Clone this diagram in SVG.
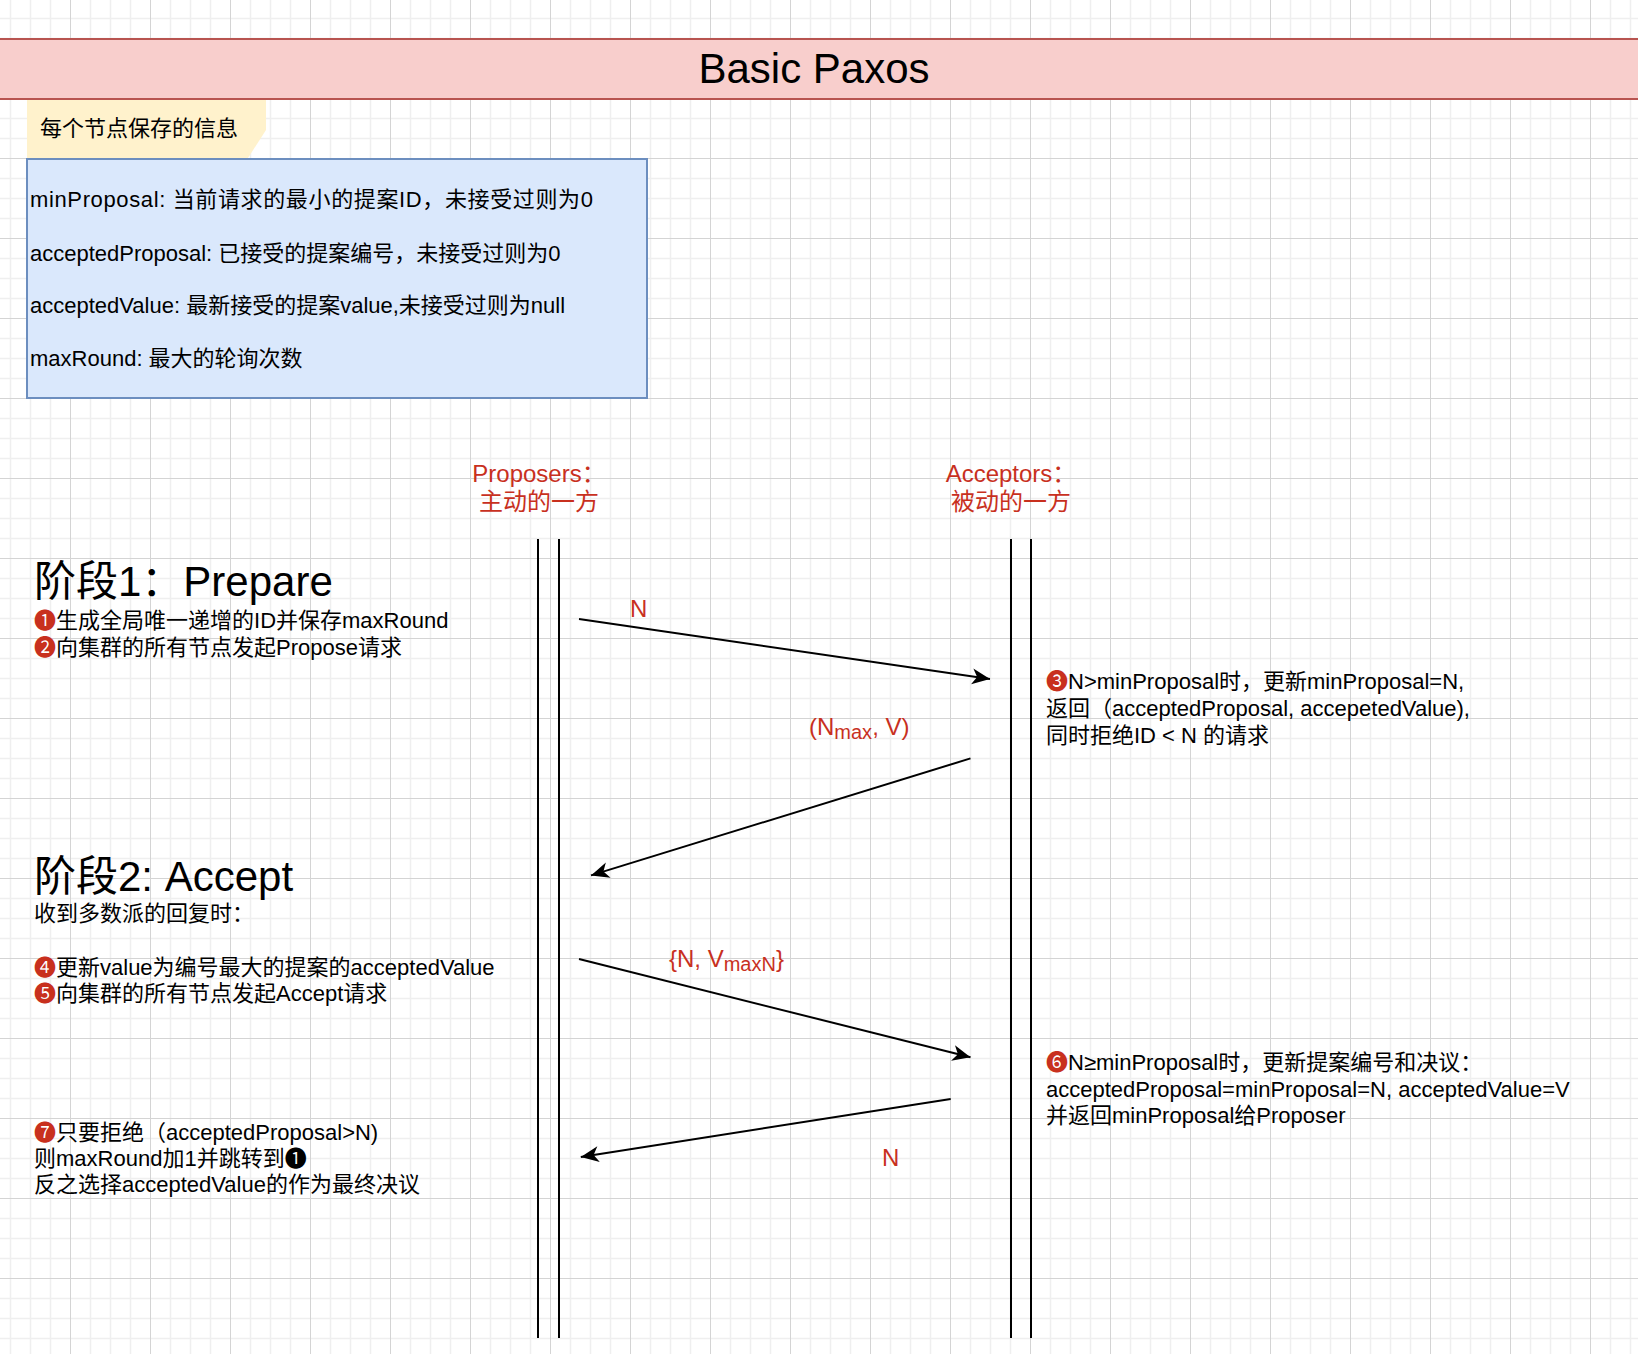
<svg xmlns="http://www.w3.org/2000/svg" width="1638" height="1354" viewBox="0 0 1638 1354">
<style>
text{font-family:"Liberation Sans","Noto Sans CJK SC","DejaVu Sans",sans-serif;fill:#000}
.t22{font-size:22px}
.t24{font-size:24px}
.h{font-size:42px}
.red{fill:#c8301e}
.conn{stroke:#000;stroke-width:2;fill:none}
.life{stroke:#000;stroke-width:2}
</style>
<defs>
<pattern id="grid" x="-10" y="-2" width="80" height="80" patternUnits="userSpaceOnUse">
<rect x="0" y="0" width="80" height="80" fill="#ffffff"/>
<path d="M20.5 0V80M40.5 0V80M60.5 0V80M0 20.5H80M0 40.5H80M0 60.5H80" stroke="#efefef" stroke-width="1.5"/>
<path d="M0.5 0V80M0 0.5H80" stroke="#d4d4d4" stroke-width="1"/>
</pattern>
<marker id="arrow" viewBox="0 0 20 18" refX="19" refY="9" markerWidth="20" markerHeight="18" orient="auto" markerUnits="userSpaceOnUse">
<path d="M19,9 L1,1 L6,9 L1,17 Z" fill="#000"/>
</marker>
</defs>
<rect x="0" y="0" width="1638" height="1354" fill="url(#grid)"/>

<g id="title">
<rect x="-5" y="39" width="1648" height="60" fill="#f8cecc" stroke="#b85450" stroke-width="2"/>
<text class="h" x="814" y="83" text-anchor="middle">Basic Paxos</text>
</g>

<g id="note">
<polygon points="27,100 266,100 266,130 248,158 27,158" fill="#fff2cc"/>
<text class="t22" x="40" y="136">每个节点保存的信息</text>
</g>

<g id="info-box">
<rect x="27" y="159" width="620" height="239" fill="#dae8fc" stroke="#6c8ebf" stroke-width="2"/>
<text class="t22" x="30" y="207" textLength="563" lengthAdjust="spacing">minProposal: 当前请求的最小的提案ID，未接受过则为0</text>
<text class="t22" x="30" y="261">acceptedProposal: 已接受的提案编号，未接受过则为0</text>
<text class="t22" x="30" y="313">acceptedValue: 最新接受的提案value,未接受过则为null</text>
<text class="t22" x="30" y="366">maxRound: 最大的轮询次数</text>
</g>

<g id="proposers">
<text class="t24 red" x="539" y="482" text-anchor="middle">Proposers：</text>
<text class="t24 red" x="539" y="510" text-anchor="middle">主动的一方</text>
<line class="life" x1="538" y1="539" x2="538" y2="1338"/>
<line class="life" x1="559" y1="539" x2="559" y2="1338"/>
</g>

<g id="acceptors">
<text class="t24 red" x="1011" y="482" text-anchor="middle">Acceptors：</text>
<text class="t24 red" x="1011" y="510" text-anchor="middle">被动的一方</text>
<line class="life" x1="1011" y1="539" x2="1011" y2="1338"/>
<line class="life" x1="1031" y1="539" x2="1031" y2="1338"/>
</g>

<g id="phase1">
<text class="h" x="34" y="596">阶段1：Prepare</text>
<text class="t22" x="34" y="628"><tspan class="red">❶</tspan>生成全局唯一递增的ID并保存maxRound</text>
<text class="t22" x="34" y="655"><tspan class="red">❷</tspan>向集群的所有节点发起Propose请求</text>
</g>

<g id="acceptor-prepare">
<text class="t22" x="1046" y="689"><tspan class="red">❸</tspan>N&gt;minProposal时，更新minProposal=N,</text>
<text class="t22" x="1046" y="716">返回（acceptedProposal, accepetedValue),</text>
<text class="t22" x="1046" y="743">同时拒绝ID &lt; N 的请求</text>
</g>

<g id="phase2">
<text class="h" x="34" y="891">阶段2: Accept</text>
<text class="t22" x="34" y="921">收到多数派的回复时：</text>
<text class="t22" x="34" y="975"><tspan class="red">❹</tspan>更新value为编号最大的提案的acceptedValue</text>
<text class="t22" x="34" y="1001"><tspan class="red">❺</tspan>向集群的所有节点发起Accept请求</text>
</g>

<g id="acceptor-accept">
<text class="t22" x="1046" y="1070"><tspan class="red">❻</tspan>N≥minProposal时，更新提案编号和决议：</text>
<text class="t22" x="1046" y="1097">acceptedProposal=minProposal=N, acceptedValue=V</text>
<text class="t22" x="1046" y="1123">并返回minProposal给Proposer</text>
</g>

<g id="result">
<text class="t22" x="34" y="1140"><tspan class="red">❼</tspan>只要拒绝（acceptedProposal&gt;N)</text>
<text class="t22" x="34" y="1166">则maxRound加1并跳转到❶</text>
<text class="t22" x="34" y="1192">反之选择acceptedValue的作为最终决议</text>
</g>

<g id="connectors">
<line class="conn" x1="579" y1="619" x2="990" y2="679" marker-end="url(#arrow)"/>
<text class="t24 red" x="630" y="617">N</text>
<line class="conn" x1="970.5" y1="758.4" x2="591" y2="875.4" marker-end="url(#arrow)"/>
<text class="t24 red" x="809" y="735">(N<tspan font-size="20" dy="4">max</tspan><tspan dy="-4">, V)</tspan></text>
<line class="conn" x1="579" y1="959" x2="970.5" y2="1057.3" marker-end="url(#arrow)"/>
<text class="t24 red" x="669" y="967">{N, V<tspan font-size="20" dy="4">maxN</tspan><tspan dy="-4">}</tspan></text>
<line class="conn" x1="950.7" y1="1099" x2="580.8" y2="1157" marker-end="url(#arrow)"/>
<text class="t24 red" x="882" y="1166">N</text>
</g>
</svg>
